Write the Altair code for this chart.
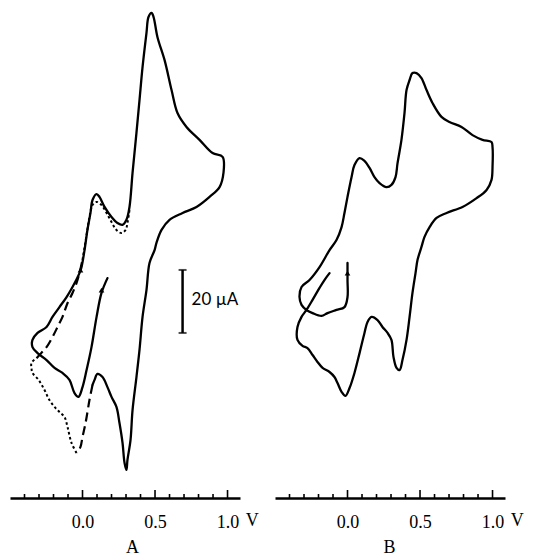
import altair as alt
import pandas as pd

# ---------------- data (potential in V, current in µA, arbitrary offset) -------------
A_SOLID_V = [0.172, 0.131, 0.097, 0.062, 0.028, 0.000, -0.028, -0.055, -0.090, -0.138,
             -0.193, -0.248, -0.310, -0.345, -0.345, -0.310, -0.248, -0.207, -0.159, -0.110,
             -0.069, -0.021, -0.007, 0.014, 0.034, 0.055, 0.069, 0.097, 0.117, 0.152,
             0.200, 0.241, 0.276, 0.303, 0.324, 0.345, 0.372, 0.393, 0.414, 0.441,
             0.455, 0.476, 0.490, 0.517, 0.566, 0.614, 0.655, 0.717, 0.807, 0.897,
             0.966, 0.972, 0.945, 0.876, 0.786, 0.690, 0.600, 0.545, 0.510, 0.497,
             0.462, 0.441, 0.414, 0.393, 0.372, 0.345, 0.331, 0.310, 0.303, 0.290,
             0.276, 0.255, 0.234, 0.200, 0.172, 0.138, 0.103, 0.083, 0.069]
A_SOLID_I = [69.8, 65.1, 57.5, 47.9, 40.6, 35.2, 32.1, 33.3, 37.5, 39.7,
             41.3, 43.8, 46.0, 47.9, 50.2, 52.4, 54.3, 57.5, 60.6, 63.8,
             67.0, 71.4, 73.3, 78.7, 85.1, 90.5, 94.6, 96.5, 95.6, 92.4,
             89.2, 87.3, 86.7, 88.3, 92.4, 103.2, 115.9, 126.3, 136.8, 147.6,
             152.7, 154.0, 152.7, 146.3, 139.0, 129.5, 122.2, 117.8, 113.7, 109.5,
             108.3, 103.2, 98.7, 95.6, 92.4, 90.5, 88.3, 85.1, 81.0, 78.7,
             74.6, 66.0, 57.5, 47.0, 38.4, 27.9, 18.4, 12.1, 8.9, 11.1,
             17.5, 23.8, 28.9, 32.1, 35.2, 38.4, 39.4, 37.5, 35.9]

A_DASH1_V = [0.069, 0.048, 0.021, 0.000, -0.014, -0.034, -0.041]
A_DASH1_I = [35.9, 31.1, 23.8, 19.4, 16.2, 14.6, 14.3]
A_DOT1_V = [-0.041, -0.076, -0.103, -0.124, -0.159, -0.193, -0.228, -0.262, -0.303, -0.345,
            -0.352, -0.352, -0.317]
A_DOT1_I = [14.3, 17.5, 22.5, 25.7, 27.3, 28.9, 31.1, 34.3, 37.5, 39.7,
            41.3, 42.9, 44.4]
A_DASH2_V = [-0.317, -0.297, -0.248, -0.207, -0.172, -0.138, -0.103, -0.069, -0.041, -0.021, 0.000]
A_DASH2_I = [44.4, 45.4, 47.9, 51.1, 54.3, 57.5, 61.9, 65.1, 68.3, 71.4, 75.6]
A_DOT2_V = [0.000, 0.028, 0.048, 0.069, 0.097, 0.131, 0.166, 0.200, 0.234, 0.269,
            0.297, 0.310, 0.324]
A_DOT2_I = [75.6, 83.5, 89.2, 93.0, 94.0, 93.0, 90.5, 87.6, 85.1, 84.1,
            85.1, 87.3, 91.4]

B_SOLID_V = [0, 0, 0, -0.021, -0.076, -0.138, -0.179, -0.241, -0.283, -0.317,
             -0.331, -0.317, -0.262, -0.193, -0.124, -0.076, -0.041, -0.021, 0, 0.028,
             0.048, 0.083, 0.117, 0.152, 0.186, 0.221, 0.269, 0.303, 0.331, 0.345,
             0.372, 0.393, 0.407, 0.428, 0.448, 0.476, 0.510, 0.545, 0.586, 0.648,
             0.703, 0.786, 0.862, 0.931, 0.993, 1.0, 1.0, 0.993, 0.959, 0.890,
             0.793, 0.683, 0.614, 0.566, 0.531, 0.510, 0.483, 0.469, 0.448, 0.428,
             0.407, 0.379, 0.359, 0.338, 0.317, 0.303, 0.276, 0.241, 0.207, 0.166,
             0.138, 0.117, 0.083, 0.048, 0.014, -0.014, -0.041, -0.069, -0.090, -0.124,
             -0.172, -0.207, -0.241, -0.276, -0.310, -0.345, -0.345, -0.317, -0.283, -0.241,
             -0.193, -0.159, -0.124]
B_SOLID_I = [74.6, 69.2, 63.8, 60.6, 59.7, 58.7, 57.8, 58.7, 59.7, 61.3,
             63.8, 67.0, 69.2, 73.3, 78.7, 81.9, 86.0, 90.5, 95.6, 101.9,
             105.7, 107.9, 107.0, 104.8, 101.9, 100.0, 98.7, 99.4, 101.9, 106.3,
             113.7, 122.2, 129.5, 132.7, 134.9, 134.9, 133.3, 129.5, 125.4, 121.0,
             119.4, 117.8, 115.2, 113.7, 113.0, 111.4, 105.1, 101.0, 97.8, 95.2,
             92.4, 90.5, 88.9, 86.0, 82.9, 79.7, 75.6, 71.4, 65.1, 57.5,
             50.2, 43.8, 40.6, 41.3, 44.8, 50.2, 52.4, 54.3, 56.5, 57.5,
             55.9, 52.4, 46.0, 39.7, 34.9, 32.4, 33.7, 36.5, 38.4, 40.0,
             41.3, 43.2, 45.4, 47.6, 48.3, 50.2, 54.3, 57.5, 59.7, 62.9,
             66.7, 69.2, 71.4]

A_ARROW_V = [0.131, -0.014]
A_ARROW_I = [66.0, 72.4]
B_ARROW_V = [0.0]
B_ARROW_I = [71.4]

SCALE_V = [0.69]
SCALE_LOW = [52.4]
SCALE_HIGH = [72.4]
SCALE_TEXT = ["20 \u00b5A"]

MAJOR_TICKS = [0.0, 0.5, 1.0]
MINOR_TICKS = [-0.4, -0.3, -0.2, -0.1, 0.1, 0.2, 0.3, 0.4, 0.6, 0.7, 0.8, 0.9]
UNIT_V = [1.17]
UNIT_TEXT = ["V"]

X_DOMAIN = [-0.5, 1.086]
Y_DOMAIN = [0, 158.1]
W, H = 230, 498
SERIF = "Liberation Serif"


def path_df(v, i, seg):
    return pd.DataFrame({"V": v, "I": i, "k": list(range(len(v))), "seg": seg})


def panel(solid, dashes, dots, arrows, label, title_x, scale_bar=False):
    xs = alt.Scale(domain=X_DOMAIN, nice=False, zero=False)
    ys = alt.Scale(domain=Y_DOMAIN, nice=False, zero=False)
    xaxis = alt.Axis(values=MAJOR_TICKS, format=".1f", domain=True, domainColor="black",
                     domainWidth=2.5, ticks=False, tickSize=0, grid=False,
                     labelFont=SERIF, labelFontSize=18, labelColor="black",
                     labelPadding=15, labelFlush=False, title=label, titleFont=SERIF,
                     titleFontSize=18, titleFontWeight="normal", titleColor="black",
                     titleX=title_x, titleY=54, titleBaseline="alphabetic")
    X = lambda f: alt.X(f, type="quantitative", scale=xs, axis=xaxis)
    Y = lambda f: alt.Y(f, type="quantitative", scale=ys, axis=None)

    layers = []
    layers.append(alt.Chart(solid).mark_line(color="black", strokeWidth=2.3,
                                             interpolate="catmull-rom", strokeJoin="round",
                                             strokeCap="round").encode(
        x=X("V"), y=Y("I"), detail="seg:N", order="k:Q"))
    if dashes is not None:
        layers.append(alt.Chart(dashes).mark_line(color="black", strokeWidth=2.2,
                                                  strokeDash=[9, 5],
                                                  interpolate="catmull-rom").encode(
            x=X("V"), y=Y("I"), detail="seg:N", order="k:Q"))
    if dots is not None:
        layers.append(alt.Chart(dots).mark_line(color="black", strokeWidth=2.0,
                                                strokeDash=[2.5, 2.5],
                                                interpolate="catmull-rom").encode(
            x=X("V"), y=Y("I"), detail="seg:N", order="k:Q"))
    layers.append(alt.Chart(arrows).mark_point(shape="triangle-up", filled=True, size=32,
                                               color="black", opacity=1).encode(
        x=X("V"), y=Y("I")))
    # hand-drawn style axis ticks (pointing up from the axis line)
    layers.append(alt.Chart(pd.DataFrame({"t": MINOR_TICKS})).mark_rule(
        color="black", strokeWidth=1.6).encode(
        x=X("t"), y=alt.value(H), y2=alt.value(H - 4)))
    layers.append(alt.Chart(pd.DataFrame({"t": MAJOR_TICKS})).mark_rule(
        color="black", strokeWidth=1.6).encode(
        x=X("t"), y=alt.value(H), y2=alt.value(H - 8)))
    layers.append(alt.Chart(pd.DataFrame({"t": UNIT_V, "s": UNIT_TEXT})).mark_text(
        font=SERIF, fontSize=18, color="black", baseline="top", dy=-1).encode(
        x=X("t"), y=alt.value(H + 15), text="s:N"))
    if scale_bar:
        sb = pd.DataFrame({"V": SCALE_V, "lo": SCALE_LOW, "hi": SCALE_HIGH,
                           "mid": [(a + b) / 2 for a, b in zip(SCALE_LOW, SCALE_HIGH)],
                           "txt": SCALE_TEXT})
        layers.append(alt.Chart(sb).mark_rule(color="black", strokeWidth=2.5).encode(
            x=X("V"), y=Y("lo"), y2="hi"))
        layers.append(alt.Chart(sb).mark_tick(orient="horizontal", color="black",
                                              size=8, thickness=2).encode(
            x=X("V"), y=Y("lo")))
        layers.append(alt.Chart(sb).mark_tick(orient="horizontal", color="black",
                                              size=8, thickness=2).encode(
            x=X("V"), y=Y("hi")))
        layers.append(alt.Chart(sb).mark_text(align="left", baseline="middle", dx=9, dy=-1,
                                              font="Lato", fontSize=17,
                                              color="black").encode(
            x=X("V"), y=Y("mid"), text="txt:N"))
    return alt.layer(*layers).properties(width=W, height=H)


a_solid = path_df(A_SOLID_V, A_SOLID_I, "s")
a_dash = pd.concat([path_df(A_DASH1_V, A_DASH1_I, "d1"), path_df(A_DASH2_V, A_DASH2_I, "d2")])
a_dot = pd.concat([path_df(A_DOT1_V, A_DOT1_I, "p1"), path_df(A_DOT2_V, A_DOT2_I, "p2")])
a_arrows = pd.DataFrame({"V": A_ARROW_V, "I": A_ARROW_I})

b_solid = path_df(B_SOLID_V, B_SOLID_I, "s")
b_arrows = pd.DataFrame({"V": B_ARROW_V, "I": B_ARROW_I})

panel_a = panel(a_solid, a_dash, a_dot, a_arrows, "A", 122, scale_bar=True)
panel_b = panel(b_solid, None, None, b_arrows, "B", 114)

chart = alt.hconcat(panel_a, panel_b, spacing=35, bounds="flush").properties(
    padding={"left": 10, "top": 0, "right": 0, "bottom": 0},
    background="white",
).configure_view(stroke=None)

chart.save("out.html", embed_options={"renderer": "svg", "actions": False})
